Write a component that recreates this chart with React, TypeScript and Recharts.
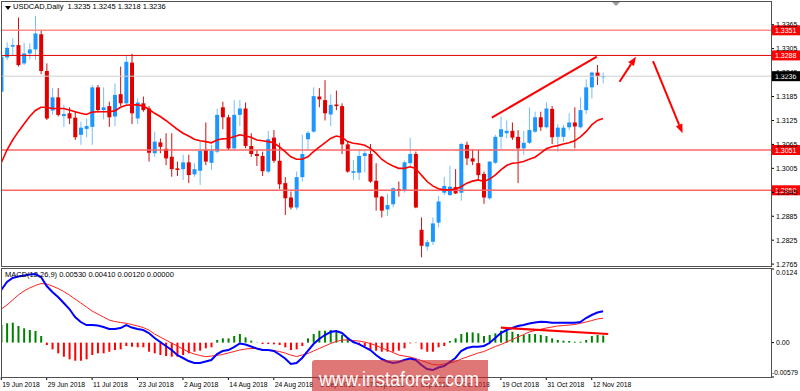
import { ComposedChart, Bar, Line, XAxis, YAxis, ReferenceLine, Cell } from "recharts"

// daily candles, 19 Jun 2018 .. 14 Nov 2018
const opens = [1.3197,1.3283,1.3310,1.3314,1.3268,1.3293,1.3303,1.3341,1.3249,1.3150,1.3183,1.3136,1.3143,1.3132,1.3089,1.3104,1.3109,1.3208,1.3151,1.3161,1.3135,1.3191,1.3168,1.3270,1.3130,1.3168,1.3155,1.3043,1.3070,1.3054,1.3034,1.3005,1.3003,1.3020,1.2990,1.2999,1.3051,1.3019,1.3047,1.3158,1.3133,1.3055,1.3139,1.3155,1.3061,1.3041,1.3036,1.2997,1.3082,1.3024,1.2968,1.2932,1.2907,1.2983,1.3078,1.3097,1.3185,1.3176,1.3140,1.3165,1.3161,1.3065,1.2994,1.2994,1.3036,1.3041,1.2974,1.2934,1.2902,1.2915,1.2953,1.2951,1.3018,1.3041,1.2851,1.2809,1.2821,1.2869,1.2944,1.2938,1.2958,1.2944,1.3064,1.3030,1.3018,1.2991,1.2930,1.3019,1.3084,1.3093,1.3099,1.3084,1.3055,1.3069,1.3097,1.3133,1.3108,1.3154,1.3084,1.3084,1.3108,1.3120,1.3108,1.3151,1.3208,1.3245,1.3235]
const highs = [1.3289,1.3321,1.3331,1.3383,1.3320,1.3318,1.3387,1.3352,1.3268,1.3206,1.3206,1.3164,1.3158,1.3147,1.3122,1.3130,1.3214,1.3214,1.3208,1.3172,1.3218,1.3260,1.3289,1.3292,1.3180,1.3185,1.3161,1.3097,1.3080,1.3093,1.3093,1.3022,1.3039,1.3039,1.3018,1.3072,1.3120,1.3064,1.3155,1.3172,1.3139,1.3176,1.3176,1.3170,1.3093,1.3051,1.3047,1.3099,1.3101,1.3069,1.2983,1.2947,1.2997,1.3089,1.3099,1.3208,1.3206,1.3226,1.3190,1.3200,1.3168,1.3072,1.3026,1.3053,1.3049,1.3066,1.3018,1.2936,1.2941,1.2958,1.2972,1.3024,1.3082,1.3047,1.2882,1.2826,1.2882,1.2936,1.2983,1.3011,1.3003,1.3069,1.3072,1.3053,1.3051,1.2997,1.3023,1.3089,1.3135,1.3125,1.3120,1.3101,1.3099,1.3158,1.3147,1.3147,1.3170,1.3161,1.3116,1.3114,1.3143,1.3158,1.3183,1.3228,1.3247,1.3264,1.3245]
const lows = [1.3195,1.3276,1.3289,1.3260,1.3264,1.3278,1.3277,1.3241,1.3126,1.3139,1.3135,1.3109,1.3116,1.3076,1.3064,1.3083,1.3064,1.3145,1.3128,1.3109,1.3111,1.3161,1.3161,1.3116,1.3116,1.3147,1.3022,1.3034,1.3043,1.3013,1.2984,1.2986,1.2976,1.2968,1.2984,1.2963,1.3013,1.3001,1.3043,1.3103,1.3051,1.3051,1.3111,1.3055,1.3034,1.3011,1.2986,1.2993,1.3019,1.2953,1.2888,1.2902,1.2901,1.2972,1.3051,1.3094,1.3158,1.3125,1.3111,1.3151,1.3041,1.2994,1.2976,1.2976,1.2995,1.2969,1.2899,1.2882,1.2886,1.2907,1.2934,1.2944,1.3009,1.2905,1.2782,1.2799,1.2813,1.2857,1.2938,1.2936,1.2941,1.2924,1.3013,1.3013,1.2976,1.2916,1.2926,1.3016,1.3051,1.3080,1.3076,1.2968,1.3039,1.3066,1.3094,1.3099,1.3105,1.3066,1.3047,1.3072,1.3101,1.3055,1.3105,1.3141,1.3180,1.3214,1.3218]
const closes = [1.3285,1.3307,1.3314,1.3264,1.3293,1.3303,1.3343,1.3249,1.3130,1.3183,1.3139,1.3141,1.3130,1.3083,1.3107,1.3111,1.3208,1.3151,1.3158,1.3133,1.3189,1.3168,1.3272,1.3143,1.3170,1.3151,1.3044,1.3072,1.3059,1.3030,1.3003,1.3001,1.3020,1.2988,1.3003,1.3049,1.3022,1.3049,1.3139,1.3133,1.3055,1.3139,1.3155,1.3061,1.3041,1.3036,1.2998,1.3078,1.3024,1.2965,1.2930,1.2907,1.2983,1.3041,1.3094,1.3186,1.3178,1.3143,1.3164,1.3161,1.3065,1.2997,1.2998,1.3036,1.3043,1.2972,1.2932,1.2899,1.2913,1.2955,1.2951,1.3020,1.3041,1.2907,1.2811,1.2820,1.2867,1.2922,1.2961,1.2959,1.2942,1.3066,1.3030,1.3022,1.2988,1.2932,1.3022,1.3084,1.3103,1.3099,1.3082,1.3055,1.3069,1.3101,1.3133,1.3108,1.3155,1.3083,1.3107,1.3107,1.3120,1.3110,1.3151,1.3208,1.3245,1.3236,1.3236]
const ma = [1.3019,1.3051,1.3076,1.3097,1.3116,1.3135,1.3150,1.3158,1.3158,1.3155,1.3155,1.3155,1.3151,1.3147,1.3143,1.3140,1.3146,1.3147,1.3147,1.3147,1.3149,1.3158,1.3163,1.3164,1.3164,1.3161,1.3153,1.3143,1.3135,1.3125,1.3114,1.3103,1.3093,1.3086,1.3078,1.3074,1.3072,1.3069,1.3076,1.3079,1.3080,1.3084,1.3089,1.3086,1.3083,1.3076,1.3074,1.3072,1.3069,1.3059,1.3047,1.3034,1.3028,1.3028,1.3034,1.3047,1.3058,1.3069,1.3080,1.3086,1.3083,1.3072,1.3068,1.3066,1.3063,1.3055,1.3043,1.3028,1.3018,1.3011,1.3005,1.3005,1.3009,1.3005,1.2988,1.2972,1.2961,1.2954,1.2951,1.2951,1.2953,1.2959,1.2968,1.2973,1.2976,1.2972,1.2978,1.2988,1.3001,1.3012,1.3018,1.3019,1.3022,1.3028,1.3033,1.3043,1.3054,1.3059,1.3062,1.3066,1.3069,1.3074,1.3084,1.3097,1.3114,1.3125,1.3130]

// MACD(12,26,9)
const macdMain = [0.00886,0.01021,0.01088,0.01113,0.01130,0.01147,0.01155,0.01105,0.00953,0.00852,0.00768,0.00667,0.00566,0.00431,0.00347,0.00296,0.00296,0.00288,0.00263,0.00229,0.00229,0.00246,0.00296,0.00254,0.00229,0.00212,0.00162,0.00078,0.00010,-0.00057,-0.00125,-0.00209,-0.00259,-0.00310,-0.00344,-0.00344,-0.00318,-0.00293,-0.00192,-0.00141,-0.00125,-0.00074,-0.00015,-0.00032,-0.00066,-0.00099,-0.00125,-0.00125,-0.00141,-0.00200,-0.00268,-0.00360,-0.00344,-0.00259,-0.00141,-0.00024,0.00061,0.00128,0.00179,0.00195,0.00162,0.00078,0.00010,-0.00024,-0.00074,-0.00125,-0.00209,-0.00276,-0.00318,-0.00344,-0.00327,-0.00293,-0.00268,-0.00293,-0.00377,-0.00445,-0.00462,-0.00419,-0.00394,-0.00327,-0.00259,-0.00141,-0.00091,-0.00069,-0.00069,-0.00057,-0.00007,0.00078,0.00162,0.00212,0.00246,0.00280,0.00296,0.00322,0.00339,0.00352,0.00347,0.00335,0.00335,0.00335,0.00335,0.00335,0.00347,0.00414,0.00465,0.00507,0.00530]
const macdSignal = [0.00566,0.00633,0.00718,0.00802,0.00869,0.00920,0.00962,0.00995,0.00987,0.00953,0.00911,0.00861,0.00802,0.00734,0.00667,0.00600,0.00532,0.00482,0.00431,0.00381,0.00355,0.00339,0.00325,0.00305,0.00280,0.00254,0.00212,0.00145,0.00094,0.00044,-0.00007,-0.00057,-0.00108,-0.00158,-0.00192,-0.00217,-0.00237,-0.00226,-0.00214,-0.00200,-0.00175,-0.00150,-0.00125,-0.00108,-0.00099,-0.00099,-0.00116,-0.00125,-0.00133,-0.00150,-0.00175,-0.00209,-0.00234,-0.00209,-0.00184,-0.00141,-0.00099,-0.00057,-0.00015,0.00019,0.00044,0.00044,0.00035,0.00027,0.00010,-0.00015,-0.00049,-0.00091,-0.00125,-0.00167,-0.00209,-0.00226,-0.00243,-0.00268,-0.00302,-0.00335,-0.00369,-0.00377,-0.00360,-0.00344,-0.00318,-0.00276,-0.00243,-0.00209,-0.00175,-0.00150,-0.00108,-0.00066,-0.00032,0.00010,0.00052,0.00094,0.00136,0.00179,0.00204,0.00224,0.00246,0.00263,0.00280,0.00288,0.00296,0.00305,0.00325,0.00347,0.00372,0.00398,0.00410]
const macdHist = [0.00296,0.00325,0.00335,0.00280,0.00241,0.00212,0.00195,0.00111,-0.00040,-0.00113,-0.00180,-0.00237,-0.00281,-0.00305,-0.00305,-0.00281,-0.00209,-0.00180,-0.00180,-0.00153,-0.00125,-0.00113,-0.00057,-0.00069,-0.00079,-0.00079,-0.00153,-0.00180,-0.00209,-0.00226,-0.00237,-0.00237,-0.00209,-0.00180,-0.00153,-0.00136,-0.00096,-0.00079,0.00044,0.00072,0.00072,0.00111,0.00145,0.00089,0.00032,0.00005,-0.00024,-0.00024,-0.00029,-0.00040,-0.00079,-0.00125,-0.00113,-0.00057,0.00072,0.00145,0.00200,0.00200,0.00212,0.00184,0.00128,0.00089,0.00032,-0.00040,-0.00057,-0.00113,-0.00136,-0.00153,-0.00153,-0.00153,-0.00136,-0.00096,-0.00012,-0.00007,-0.00113,-0.00153,-0.00153,-0.00079,-0.00057,0.00027,0.00072,0.00145,0.00173,0.00173,0.00157,0.00111,0.00128,0.00157,0.00200,0.00200,0.00184,0.00145,0.00128,0.00145,0.00145,0.00128,0.00111,0.00072,0.00044,0.00032,0.00027,0.00015,0.00015,0.00044,0.00111,0.00128,0.00120]

const dateLabels = ["19 Jun 2018","29 Jun 2018","11 Jul 2018","23 Jul 2018","2 Aug 2018","14 Aug 2018","24 Aug 2018","5 Sep 2018","17 Sep 2018","27 Sep 2018","9 Oct 2018","19 Oct 2018","31 Oct 2018","12 Nov 2018"]
const dateTickIdx = [0,8,16,24,32,40,48,56,64,72,80,88,96,104]
const priceTicks = [1.3365,1.3305,1.3245,1.3185,1.3125,1.3065,1.3005,1.2945,1.2885,1.2825,1.2765]
const macdTicks = [0.0124,0,-0.00579]
const levels = [1.3351,1.3288,1.3051,1.2950]
const lastPrice = 1.3236

// hand drawn objects
const trendLine = [{x:86.4,y:1.3132},{x:104.9,y:1.3285}]
const arrowUp = [{x:108.9,y:1.3222},{x:111.8,y:1.3285}]
const arrowDown = [{x:114.8,y:1.3274},{x:120.0,y:1.3093}]
const macdTrend = [{x:88.0,y:0.00251},{x:106.9,y:0.00145}]

const data = opens.map((o,i)=>({
  i, open:o, high:highs[i], low:lows[i], close:closes[i], ma:ma[i],
  macd:macdMain[i], signal:macdSignal[i], hist:macdHist[i]
}))

const FONT = "'Liberation Sans', Arial, sans-serif"
const X_DOMAIN:[number,number] = [-0.05, 135.58]

const Candle = (props:any) => {
  const {x, y, width, height, payload} = props
  const {open, close, high, low} = payload
  const top = Math.min(y, y+height)
  const h = Math.abs(height)
  const py = (v:number) => high===low ? top : top + (high-v)/(high-low)*h
  const up = close >= open
  const cx = x + width/2
  const bt = py(Math.max(open,close)), bb = py(Math.min(open,close))
  return (
    <g>
      <line x1={cx} x2={cx} y1={top} y2={top+h} stroke={up ? "#74bdff" : "#c41414"} strokeWidth={1}/>
      <rect x={cx-2} y={bt} width={4} height={Math.max(1,bb-bt)} fill={up ? "#1e96ff" : "#e10000"}/>
    </g>
  )
}

const arrowShape = (p:any) => {
  const {x1,y1,x2,y2} = p
  const dx=x2-x1, dy=y2-y1, len=Math.hypot(dx,dy)
  const ux=dx/len, uy=dy/len
  const hl=9, hw=3.5
  const bx=x2-ux*hl, by=y2-uy*hl
  return (
    <g>
      <line x1={x1} y1={y1} x2={bx} y2={by} stroke="#f00" strokeWidth={2}/>
      <polygon points={`${x2},${y2} ${bx-uy*hw},${by+ux*hw} ${bx+uy*hw},${by-ux*hw}`} fill="#f00"/>
    </g>
  )
}

const PriceTag = (bg:string, text:string) => (props:any) => {
  const {x, y, width} = props.viewBox
  return (
    <g>
      <rect x={x+width+1} y={y-5} width={29} height={10} fill={bg}/>
      <text x={x+width+4} y={y+2.5} fill="#fff" fontSize={7} fontFamily={FONT}>{text}</text>
    </g>
  )
}

const PriceTick = (props:any) => {
  const {y, payload} = props
  return (
    <g>
      <line x1={771} x2={774} y1={y} y2={y} stroke="#000"/>
      <text x={776} y={y+2.5} fontSize={7} fontFamily={FONT} fill="#000">{payload.value.toFixed(4)}</text>
    </g>
  )
}

const MacdTick = (props:any) => {
  const {y, payload} = props
  const v = payload.value
  const label = v===0 ? "0.00" : v>0 ? "0.0124" : "-0.00579"
  const dy = v>0 ? 6 : v<0 ? -2 : 2.5
  return (
    <g>
      <line x1={771} x2={774} y1={y} y2={y} stroke="#000"/>
      <text x={v<0 ? 772 : 776} y={y+dy} fontSize={v<0 ? 6.6 : 7} fontFamily={FONT} fill="#000">{label}</text>
    </g>
  )
}

// MACD panel: plot bottom sits at y = 109 inside its own svg
const DateTick = (props:any) => {
  const {x, payload} = props
  const k = dateTickIdx.indexOf(payload.value)
  return (
    <g>
      <line x1={x} x2={x} y1={109} y2={112} stroke="#000"/>
      <text x={x+1} y={118.5} fontSize={6.8} fontFamily={FONT} fill="#000">{dateLabels[k]}</text>
    </g>
  )
}

export default function App(){
  return (
    <div style={{position:"absolute", left:0, top:0, width:800, height:391, background:"#fff", overflow:"hidden", fontFamily:FONT}}>

      <div style={{position:"absolute", left:0, top:0}}>
        <ComposedChart width={800} height={268} data={data} margin={{top:2, right:0, bottom:2, left:1}}>
          <XAxis dataKey="i" type="number" domain={X_DOMAIN} allowDataOverflow hide/>
          <YAxis orientation="right" width={29} type="number" domain={[1.27603,1.34219]} allowDataOverflow
            ticks={priceTicks} interval={0} tick={<PriceTick/>} tickLine={false} axisLine={false}/>
          <ReferenceLine y={lastPrice} stroke="#cfcfcf" strokeWidth={1} label={PriceTag("#000", "1.3236")}/>
          <ReferenceLine y={levels[0]} stroke="#ff8c8c" strokeWidth={1.6} label={PriceTag("#f00", "1.3351")}/>
          <ReferenceLine y={levels[1]} stroke="#e40000" strokeWidth={1} label={PriceTag("#f00", "1.3288")}/>
          <ReferenceLine y={levels[2]} stroke="#ff6464" strokeWidth={1.4} label={PriceTag("#f00", "1.3051")}/>
          <ReferenceLine y={levels[3]} stroke="#ff6464" strokeWidth={1.4} label={PriceTag("#f00", "1.2950")}/>
          <Bar dataKey={(d:any)=>[d.low,d.high]} shape={Candle} barSize={4} isAnimationActive={false}/>
          <Line dataKey="ma" type="linear" stroke="#f00" strokeWidth={1.6} dot={false} isAnimationActive={false}/>
          <ReferenceLine segment={trendLine} stroke="#f00" strokeWidth={2}/>
          <ReferenceLine segment={arrowUp} shape={arrowShape}/>
          <ReferenceLine segment={arrowDown} shape={arrowShape}/>
        </ComposedChart>
      </div>

      <div style={{position:"absolute", left:0, top:268}}>
        <ComposedChart width={800} height={123} data={data} margin={{top:1, right:0, bottom:0, left:1}}>
          <XAxis dataKey="i" type="number" domain={X_DOMAIN} allowDataOverflow height={14}
            ticks={dateTickIdx} interval={0} tick={<DateTick/>} tickLine={false} axisLine={false} tickSize={0} tickMargin={0}/>
          <YAxis orientation="right" width={29} type="number" domain={[-0.00579,0.0124]} allowDataOverflow
            ticks={macdTicks} interval={0} tick={<MacdTick/>} tickLine={false} axisLine={false}/>
          <Bar dataKey="hist" barSize={2} isAnimationActive={false}>
            {data.map((d,i)=>(
              <Cell key={i} fill={d.hist>=0 ? "#008000" : "#ff0000"}/>
            ))}
          </Bar>
          <Line dataKey="signal" type="linear" stroke="#ff2020" strokeWidth={1} dot={false} isAnimationActive={false}/>
          <Line dataKey="macd" type="linear" stroke="#0000ff" strokeWidth={2} dot={false} isAnimationActive={false}/>
          <ReferenceLine segment={macdTrend} stroke="#f00" strokeWidth={2.2}/>
        </ComposedChart>
      </div>

      {/* panel frames */}
      <div style={{position:"absolute", left:1, top:1, width:769, height:264, border:"1px solid #505050", pointerEvents:"none"}}/>
      <div style={{position:"absolute", left:1, top:268, width:769, height:108, border:"1px solid #505050", pointerEvents:"none"}}/>

      {/* headers */}
      <svg width={10} height={10} style={{position:"absolute", left:4, top:3}}>
        <polygon points="1,3 7,3 4,7" fill="#000"/>
      </svg>
      <div style={{position:"absolute", left:13, top:2, fontSize:7.5, whiteSpace:"pre", color:"#000"}}>
        {"USDCAD,Daily  1.3235 1.3245 1.3218 1.3236"}
      </div>
      <div style={{position:"absolute", left:5, top:270, fontSize:7.5, whiteSpace:"pre", color:"#000"}}>
        {"MACD(12,26,9) 0.00530 0.00410 0.00120 0.00000"}
      </div>
      <svg width={10} height={8} style={{position:"absolute", left:611, top:1}}>
        <polygon points="1,1 9,1 5,5" fill="#9a9a9a"/>
      </svg>

      {/* watermark */}
      <div style={{position:"absolute", left:312, top:360, width:176, height:31, background:"rgba(205,35,35,0.62)", borderTopLeftRadius:3}}/>
      <svg width={176} height={31} style={{position:"absolute", left:312, top:360}}>
        <text x={7} y={26} fontSize={21} fontFamily={FONT} fill="#fff" textLength={160} lengthAdjust="spacingAndGlyphs">www.instaforex.com</text>
      </svg>
    </div>
  )
}
